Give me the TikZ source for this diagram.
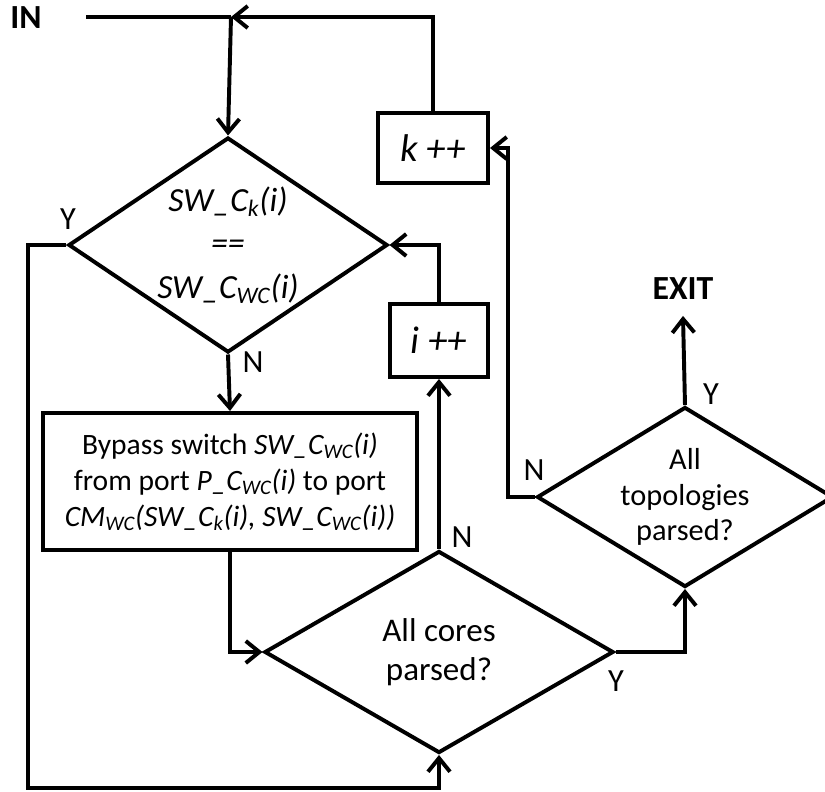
\documentclass[tikz,border=0pt]{standalone}
\usepackage{fontspec}
\setmainfont{Carlito}
\usetikzlibrary{arrows.meta,positioning,shapes.geometric}

\begin{document}
\begin{tikzpicture}[
  x=0.025cm, y=-0.025cm,
  line width=2.8pt,
  every node/.style={font=\fontsize{23.5}{27.5}\selectfont},
  decision/.style={draw,diamond,inner sep=0pt,align=center},
  procbox/.style={draw,rectangle,inner sep=0pt,align=center,
                  font=\fontsize{21}{25.6}\selectfont},
  incbox/.style={draw,rectangle,inner sep=0pt,
                 font=\fontsize{27.5}{32}\selectfont\itshape},
  term/.style={font=\fontsize{24}{28}\selectfont\bfseries},
  lbl/.style={font=\fontsize{23}{26}\selectfont},
  arr/.style={-{Straight Barb[length=0.34cm,width=0.55cm]}},
]
  \useasboundingbox (0,0) rectangle (825,792);

  % Entry
  \node[term] (in) at (26,18) {IN};
  \coordinate (inpt) at (86,17);
  \coordinate (join) at (231,17);

  % Decisions
  \node[decision,minimum width=7.975cm,minimum height=5.375cm,shape aspect=1.48,
        font=\fontsize{24}{31}\selectfont\itshape] (eq) at (228,245)
    {SW\_C\textsubscript{k}(i)\\==\\SW\_C\textsubscript{WC}(i)};
  \node[decision,minimum width=8.725cm,minimum height=5.05cm,shape aspect=1.73]
    (cores) at (439,652) {All cores\\parsed?};
  \node[decision,minimum width=7.4cm,minimum height=4.5cm,shape aspect=1.64,
        font=\fontsize{21.6}{25}\selectfont] (topo) at (685,497)
    {All\\topologies\\parsed?};

  % Process boxes
  \node[procbox,minimum width=9.35cm,minimum height=3.425cm] (bypass) at (230,481.5)
    {Bypass switch \textit{SW\_C\textsubscript{WC}(i)}\\
     from port \textit{P\_C\textsubscript{WC}(i)} to port\\
     \textit{CM\textsubscript{WC}(SW\_C\textsubscript{k}(i), SW\_C\textsubscript{WC}(i))}};
  \node[incbox,minimum width=2.45cm,minimum height=1.825cm] (iinc) at (439,340.5) {i ++};
  \node[incbox,minimum width=2.75cm,minimum height=1.75cm] (kinc) at (433,148) {k ++};

  % Exit
  \node[term,inner sep=0.35cm] (exit) at (683,289) {EXIT};
  \coordinate (loopbot) at (28,788);

  % Flow
  \draw (inpt) -- (join);
  \draw[arr] (kinc.north) |- (join);
  \draw[arr] (join) -- (eq.north);
  \draw[arr] (eq.south) -- (bypass.north);
  \draw[arr] (bypass.south) |- (cores.west);
  \draw[arr] (cores.north) -- (iinc.south);
  \draw[arr] (iinc.north) |- (eq.east);
  \draw[arr] (eq.west) -| (loopbot) -| (cores.south);
  \draw[arr] (cores.east) -| (topo.south);
  \draw[arr] (topo.north) -- (exit.south);
  \draw[arr] (topo.west) -- ++(-27,0) |- (kinc.east);

  % Branch labels
  \node[lbl] (yeq)    at (68,219)  {Y};
  \node[lbl] (neq)    at (253,362) {N};
  \node[lbl] (ncores) at (462,537) {N};
  \node[lbl] (ycores) at (616,681) {Y};
  \node[lbl] (ntopo)  at (534,470) {N};
  \node[lbl] (ytopo)  at (711,394) {Y};
\end{tikzpicture}
\end{document}
